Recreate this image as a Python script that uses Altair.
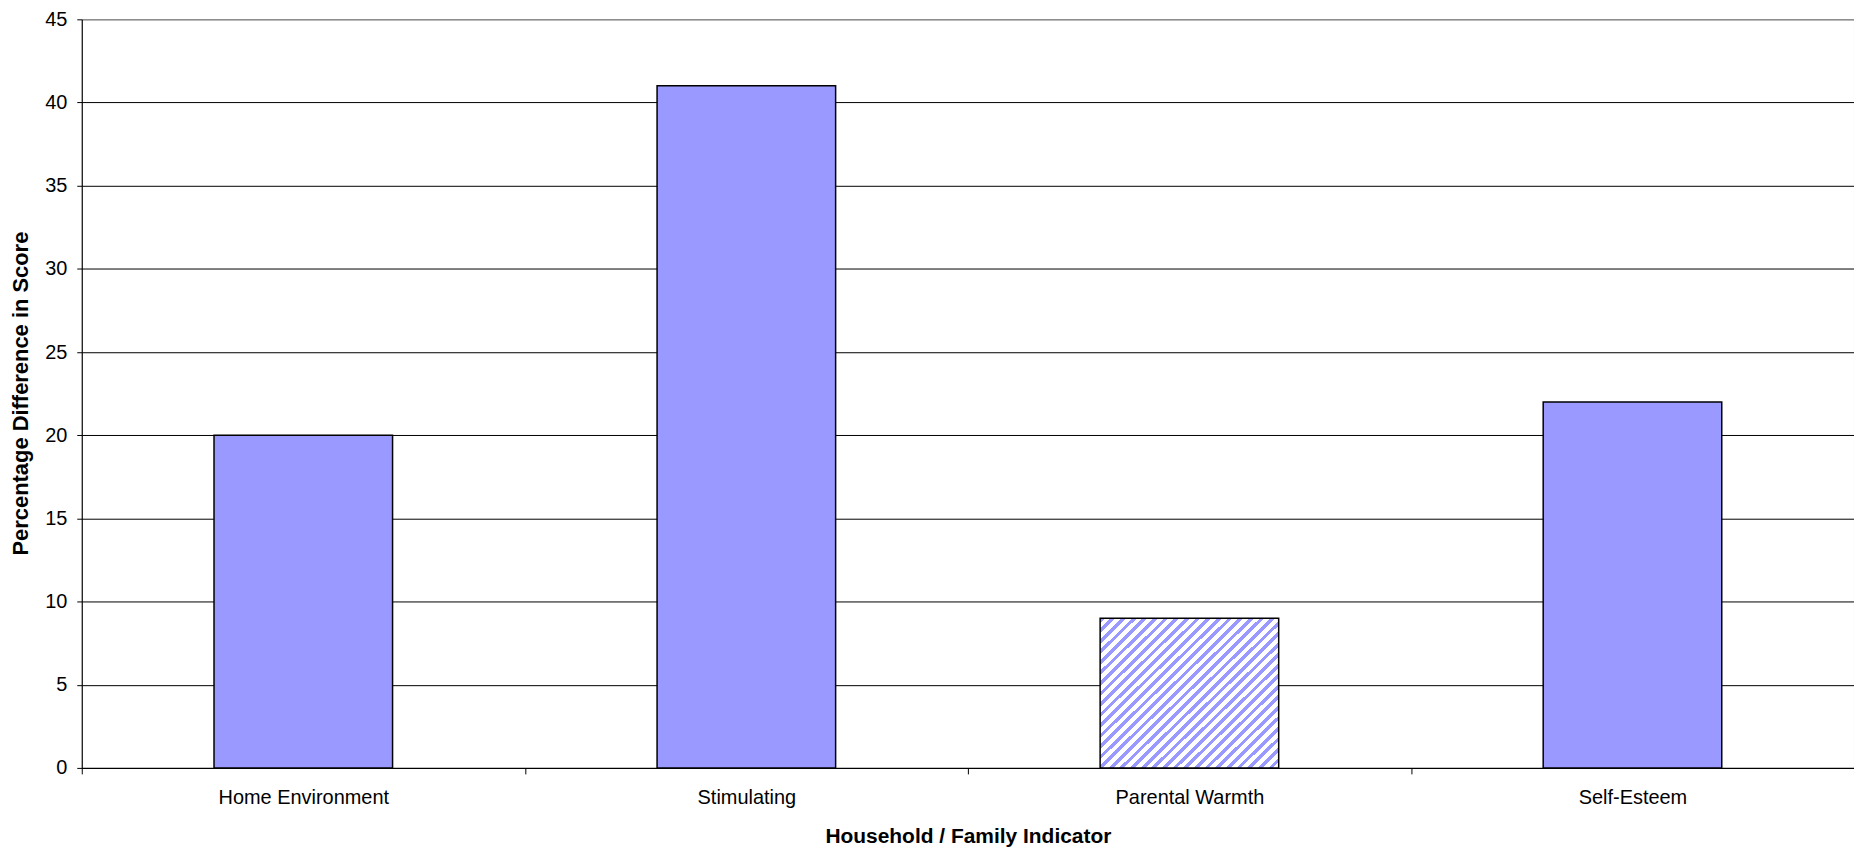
import altair as alt
import pandas as pd

categories = ["Home Environment", "Stimulating", "Parental Warmth", "Self-Esteem"]
values = [20, 41, 9, 22]
hatched = [False, False, True, False]
y_ticks = [0, 5, 10, 15, 20, 25, 30, 35, 40, 45]

df = pd.DataFrame({"indicator": categories, "pct": values, "hatched": hatched})

BLUE = "#9999FF"
N = 31
stops = []
for i in range(N):
    a = i / N
    b = (i + 0.45) / N
    c = (i + 1) / N
    stops += [
        alt.GradientStop(offset=a, color=BLUE),
        alt.GradientStop(offset=b, color=BLUE),
        alt.GradientStop(offset=b, color="white"),
        alt.GradientStop(offset=c, color="white"),
    ]
hatch = alt.LinearGradient(gradient="linear", stops=stops, x1=0, y1=0, x2=1.075, y2=0.912)

FONT = "Liberation Sans"

x = alt.X(
    "indicator:N",
    sort=categories,
    scale=alt.Scale(paddingInner=0, paddingOuter=0),
    axis=alt.Axis(
        title="Household / Family Indicator",
        labelAngle=0,
        tickBand="extent",
        tickSize=6,
        labelPadding=14,
        grid=False,
        titleX=889,
        titleY=69,
        titleBaseline="middle",
        titleFontSize=21,
    ),
)
y = alt.Y(
    "pct:Q",
    scale=alt.Scale(domain=[0, 45], nice=False),
    axis=alt.Axis(
        values=y_ticks,
        title="Percentage Difference in Score",
        tickSize=5,
        labelPadding=10,
        grid=True,
        gridColor=alt.condition("datum.value == 45", alt.value("#808080"), alt.value("#000000")),
        gridWidth=1,
        titleX=-61,
        titleY=375,
        titleBaseline="middle",
        titleFontSize=22,
    ),
)

base = alt.Chart(df).encode(x=x, y=y)
solid = base.transform_filter("!datum.hatched").mark_bar(
    fill=BLUE, stroke="black", strokeWidth=1.5, width={"band": 0.403}
)
striped = base.transform_filter("datum.hatched").mark_bar(
    fill=hatch, stroke="black", strokeWidth=1.5, width={"band": 0.403}
)

chart = (
    alt.layer(solid, striped)
    .properties(
        width=1778,
        height=751,
        autosize=alt.AutoSizeParams(type="none"),
        padding={"left": 74, "top": 10, "right": 0, "bottom": 82},
    )
    .configure_view(stroke="#808080", strokeWidth=1)
    .configure_axis(
        labelFont=FONT,
        labelFontSize=20,
        labelColor="black",
        titleFont=FONT,
        titleFontWeight="bold",
        titleColor="black",
        domainColor="black",
        domainWidth=1,
        tickColor="black",
        tickWidth=1,
    )
)

chart.save("out.html", embed_options={"renderer": "svg", "actions": False})
